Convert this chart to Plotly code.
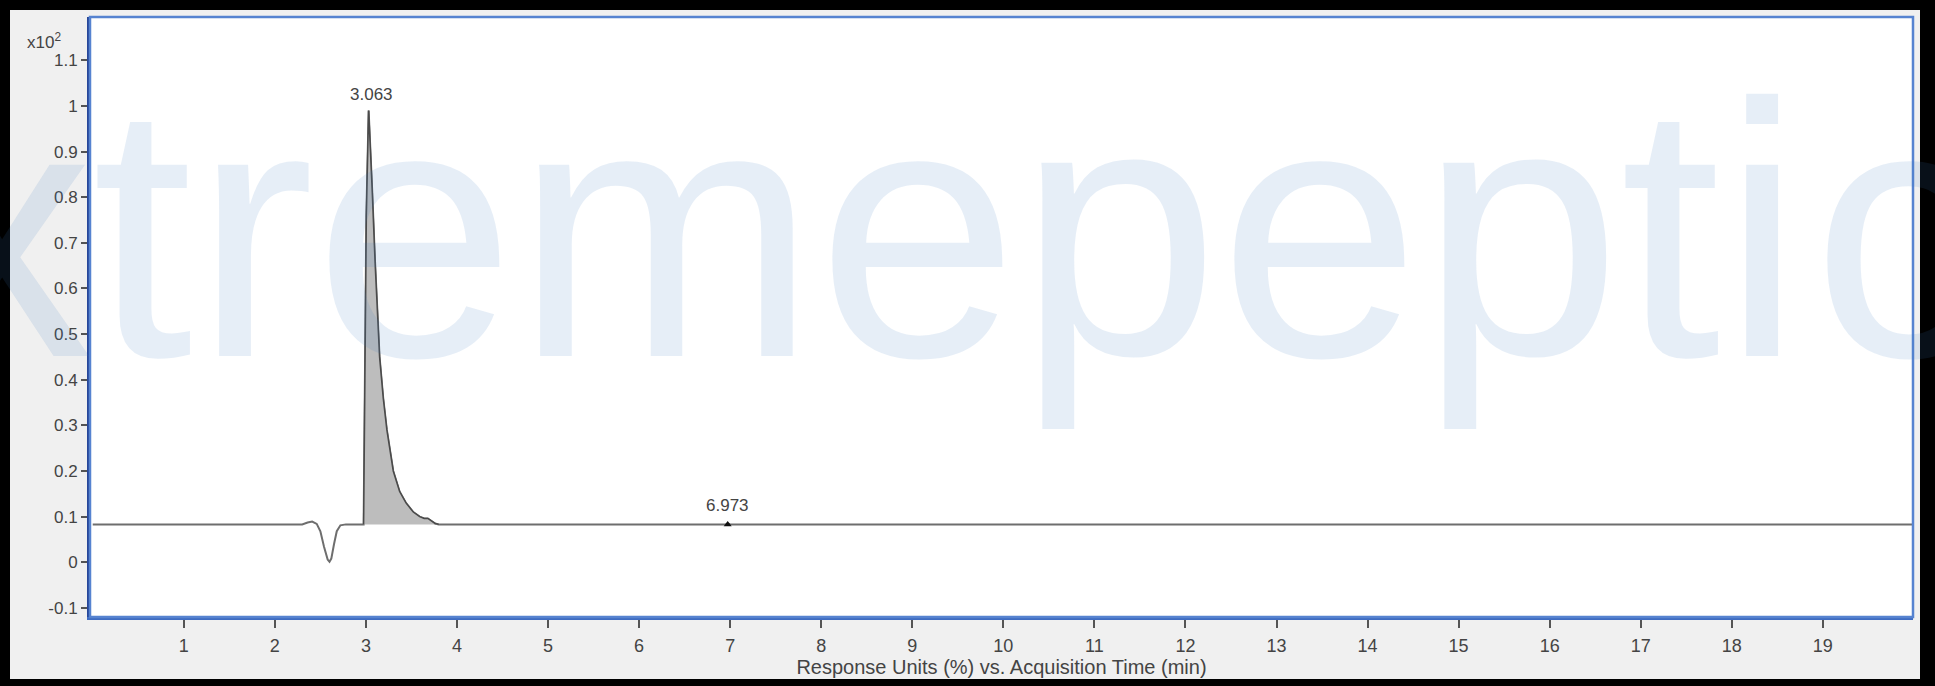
import plotly.graph_objects as go

# ---------------- data ----------------
time = [0.0, 2.30, 2.36, 2.41, 2.46, 2.50, 2.54, 2.58, 2.60, 2.62, 2.65, 2.68, 2.72, 2.78,
        2.975, 2.99, 3.005, 3.03, 3.05, 3.07, 3.10, 3.15, 3.19, 3.23, 3.30, 3.37, 3.44,
        3.52, 3.59, 3.64, 3.68, 3.72, 3.76, 3.80, 3.90, 4.20, 6.95, 6.973, 7.00, 14.4,
        15.3, 19.99]
response = [0.083, 0.083, 0.087, 0.089, 0.084, 0.068, 0.034, 0.006, 0.001, 0.008, 0.040,
            0.068, 0.081, 0.083, 0.083, 0.35, 0.76, 0.99, 0.91, 0.81, 0.66, 0.45, 0.36,
            0.29, 0.20, 0.155, 0.13, 0.11, 0.10, 0.096, 0.096, 0.091, 0.085, 0.083, 0.083,
            0.083, 0.083, 0.085, 0.083, 0.083, 0.083, 0.083]

peak_start = 2.975
peak_end = 3.80

label_times = [3.063, 6.973]
label_texts = ["3.063", "6.973"]
label_resp = [0.99, 0.083]

marker_times = [6.973]
marker_resp = [0.083]

x_tick_vals = list(range(1, 20))
x_tick_text = [str(v) for v in x_tick_vals]
y_tick_vals = [-0.1, 0, 0.1, 0.2, 0.3, 0.4, 0.5, 0.6, 0.7, 0.8, 0.9, 1.0, 1.1]
y_tick_text = ["-0.1", "0", "0.1", "0.2", "0.3", "0.4", "0.5", "0.6", "0.7", "0.8", "0.9", "1", "1.1"]

watermark_letters = ["x", "t", "r", "e", "m", "e", "p", "e", "p", "t", "i", "c"]
watermark_centers_px = [2, 143, 254, 414, 666, 917, 1118, 1319, 1520, 1671, 1762, 1902]

# ---------------- layout geometry ----------------
W, H = 1935, 686
ML, MR, MT, MB = 90, 22, 17, 69
PW = W - ML - MR
PH = H - MT - MB


def px_x(px):
    return (px - ML) / PW


def px_y(py):
    return (H - MB - py) / PH


FONT = "Liberation Sans, Arial, sans-serif"
TEXT = "#444444"
WM_SIZE = 362
WM_BASELINE = 357

fig = go.Figure()

# full chromatogram
fig.add_trace(go.Scatter(
    x=time, y=response, mode="lines",
    line=dict(color="#6e6e6e", width=2),
    hoverinfo="skip", showlegend=False,
))

# integrated peak (filled)
pk_t = [t for t in time if peak_start <= t <= peak_end]
pk_r = [r for t, r in zip(time, response) if peak_start <= t <= peak_end]
fig.add_trace(go.Scatter(
    x=pk_t, y=pk_r, mode="lines", fill="toself",
    fillcolor="#bdbdbd", line=dict(color="#4a4a4a", width=1.5),
    hoverinfo="skip", showlegend=False,
))

# small peak marker
fig.add_trace(go.Scatter(
    x=marker_times, y=marker_resp, mode="markers",
    marker=dict(symbol="triangle-up", size=7, color="#111111"),
    hoverinfo="skip", showlegend=False,
))

annotations = []
# watermark
for ch, cx in zip(watermark_letters, watermark_centers_px):
    annotations.append(dict(
        text=ch, xref="paper", yref="paper", x=px_x(cx),
        y=px_y(WM_BASELINE + 0.212 * WM_SIZE + 1),
        xanchor="center", yanchor="bottom", showarrow=False,
        font=dict(family="Liberation Sans, Arial", size=WM_SIZE,
                  color="rgba(60,120,190,0.13)"),
    ))

# peak labels
for t, txt, r, ys in zip(label_times, label_texts, label_resp, [5, 7]):
    annotations.append(dict(
        text=txt, x=t, y=r, xref="x", yref="y", xanchor="center", yanchor="bottom",
        yshift=ys, showarrow=False, font=dict(family=FONT, size=17, color=TEXT),
    ))

# y-axis multiplier
annotations.append(dict(
    text="x10<sup>2</sup>", xref="paper", yref="paper", x=px_x(25), y=px_y(41),
    xanchor="left", yanchor="middle", showarrow=False,
    font=dict(family=FONT, size=17, color=TEXT),
))

shapes = []
# black outer frame
for x0, y0, x1, y1 in [(0, 0, 10, H), (1920, 0, W, H), (0, 0, W, 10), (0, 679, W, H)]:
    shapes.append(dict(type="rect", xref="paper", yref="paper",
                       x0=px_x(x0), x1=px_x(x1), y0=px_y(y1), y1=px_y(y0),
                       fillcolor="black", line=dict(width=0), layer="above"))
# blue plot frame
shapes.append(dict(type="rect", xref="paper", yref="paper", x0=0, x1=1, y0=0, y1=1,
                   line=dict(color="#5683d0", width=2.5), layer="above"))

fig.update_layout(
    width=W, height=H,
    margin=dict(l=ML, r=MR, t=MT, b=MB, pad=0),
    paper_bgcolor="#f0f0f0", plot_bgcolor="white",
    showlegend=False,
    hovermode=False,
    xaxis=dict(
        range=[-0.03, 19.99], tickmode="array", tickvals=x_tick_vals, ticktext=x_tick_text,
        showgrid=False, zeroline=False, showline=True, linecolor="#3f6cc2", linewidth=3,
        ticks="outside", ticklen=8, tickwidth=1.5, tickcolor="#555555",
        ticklabelstandoff=2,
        tickfont=dict(family=FONT, size=18, color=TEXT),
        title=dict(text="Response Units (%) vs. Acquisition Time (min)",
                   font=dict(family=FONT, size=20, color=TEXT), standoff=4),
    ),
    yaxis=dict(
        range=[-0.12, 1.195], tickmode="array", tickvals=y_tick_vals, ticktext=y_tick_text,
        showgrid=False, zeroline=False, showline=True, linecolor="#27479a", linewidth=3,
        ticks="outside", ticklen=6, tickwidth=1.5, tickcolor="#555555",
        tickfont=dict(family=FONT, size=17, color=TEXT),
    ),
    annotations=annotations,
    shapes=shapes,
)

# remove the browser's default 8px page margin so the figure fills the window exactly
fig.write_html("out.html", config={"displayModeBar": False},
               post_script="document.body.style.margin='0px';")
